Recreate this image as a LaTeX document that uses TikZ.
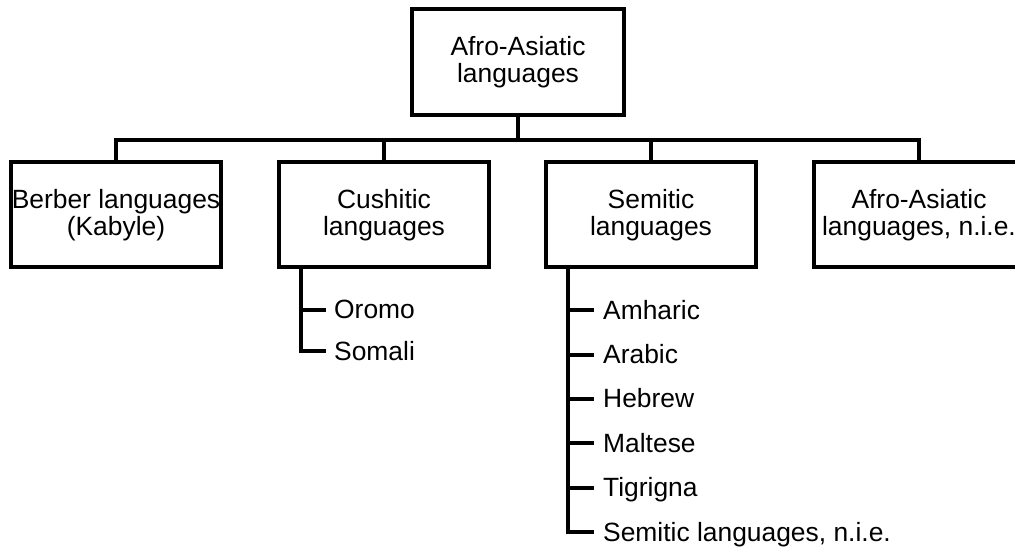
\documentclass[tikz,border=0pt]{standalone}
\usepackage{fontspec}
\setmainfont{Liberation Sans}
\begin{document}
\begin{tikzpicture}[x=1pt,y=-1pt,
  conn/.style={line width=4pt, line join=miter, line cap=rect},
  box/.style={draw, line width=4pt, minimum width=210pt, minimum height=105pt,
    inner sep=0pt, align=center, font=\fontsize{26.4}{27.5}\selectfont},
  item/.style={anchor=west, inner sep=0pt, text height=18.9pt, text depth=0pt,
    font=\fontsize{26.4}{27.5}\selectfont}]
\useasboundingbox (0,0) rectangle (1015,548);
% boxes
\node[box, minimum width=211.5pt, minimum height=106pt] (top) at (518,62) {Afro-Asiatic\\languages};
\node[box] (berber) at (116,215) {Berber languages\\(Kabyle)};
\node[box] (cush) at (384,215) {Cushitic\\languages};
\node[box] (sem) at (651,215) {Semitic\\languages};
\node[box] (nie) at (919,215) {Afro-Asiatic\\languages, n.i.e.};
% bus
\coordinate (bus) at (518,140.5);
\draw[conn] (top.south) -- (bus);
\draw[conn] (berber.north) |- (bus) -| (nie.north);
\draw[conn] (cush.north) -- (cush.north |- bus);
\draw[conn] (sem.north) -- (sem.north |- bus);
% Cushitic list
\node[item] (oromo) at (334,309.5) {Oromo};
\node[item] (somali) at (334,351) {Somali};
\coordinate (cb) at (300.5,267.5);
\draw[conn] (cb) |- ([xshift=-10pt]somali.west);
\draw[conn] (cb |- oromo.west) -- ([xshift=-10pt]oromo.west);
% Semitic list
\node[item] (amh) at (603,310) {Amharic};
\node[item] (ara) at (603,354.5) {Arabic};
\node[item] (heb) at (603,398.5) {Hebrew};
\node[item] (mal) at (603,443) {Maltese};
\node[item] (tig) at (603,487.5) {Tigrigna};
\node[item] (snie) at (603,532) {Semitic languages, n.i.e.};
\coordinate (sb) at (568,267.5);
\draw[conn] (sb) |- ([xshift=-11pt]snie.west);
\foreach \n in {amh,ara,heb,mal,tig}
  \draw[conn] (sb |- \n.west) -- ([xshift=-11pt]\n.west);
\end{tikzpicture}
\end{document}
